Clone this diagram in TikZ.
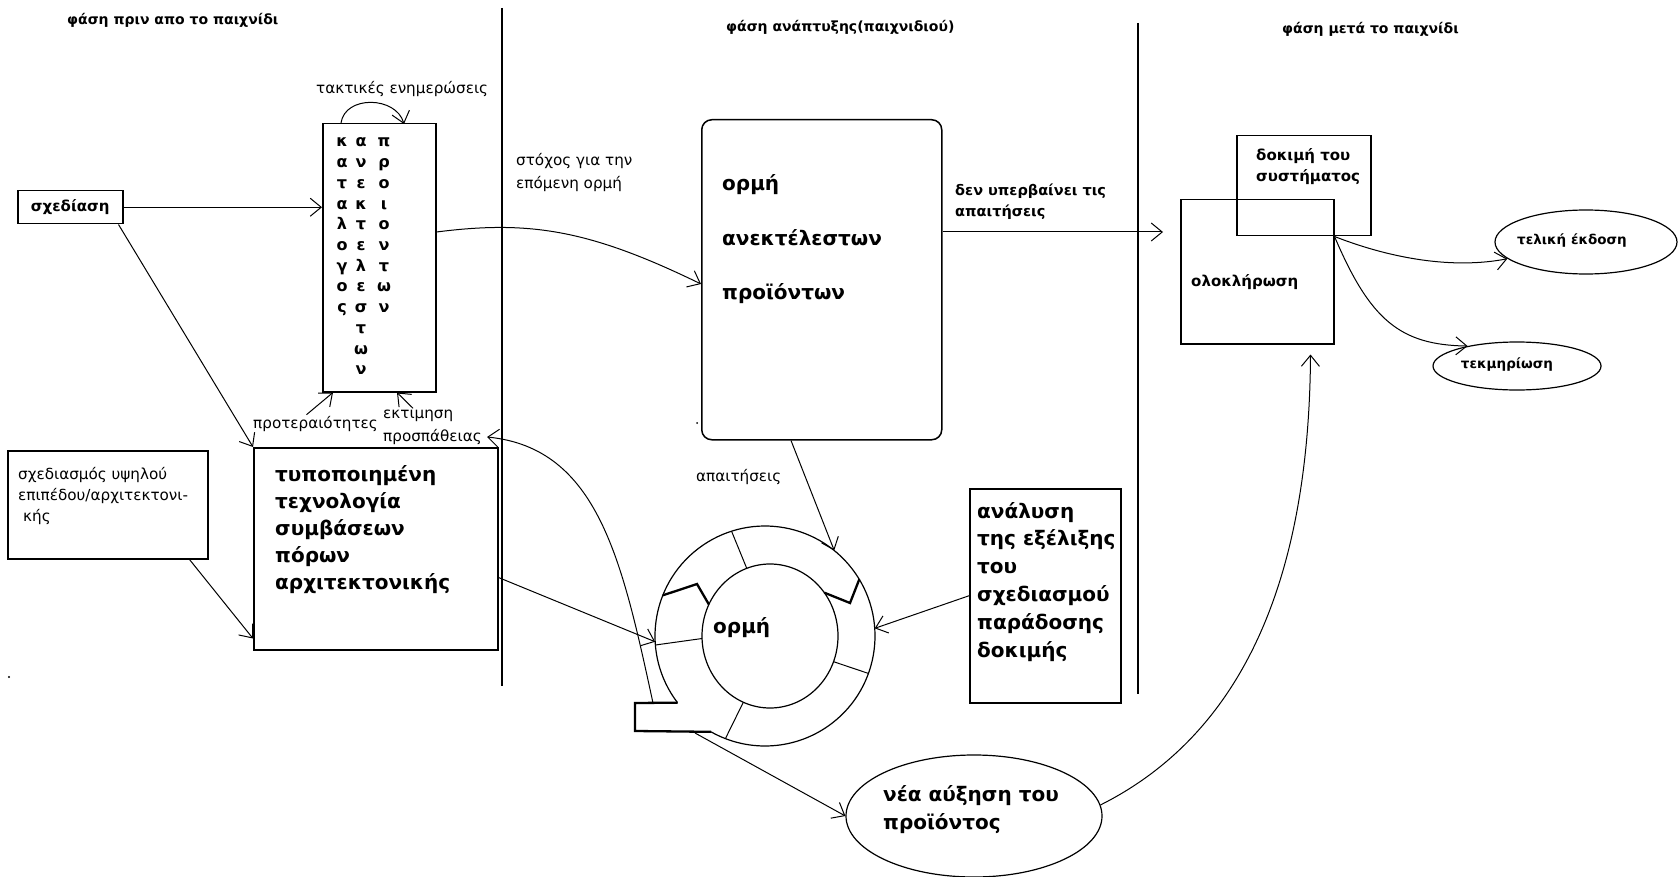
\documentclass[tikz,border=0pt]{standalone}
\usepackage{fontspec}
\setmainfont{DejaVu Sans}
\usetikzlibrary{arrows.meta,shapes.geometric,calc}
\begin{document}
\begin{tikzpicture}[x=1pt,y=-1pt,
  box/.style={draw, line width=1.5pt, inner sep=0pt, anchor=north west},
  conn/.style={line width=1pt, -{Straight Barb[length=11pt,width=18pt,line width=1pt]}},
  ell/.style={draw, ellipse, line width=1.2pt, inner sep=0pt},
  ttl/.style={font=\fontsize{14}{16}\selectfont\bfseries, anchor=base west, inner sep=0pt},
  lbl/.style={font=\fontsize{15.2}{17}\selectfont, anchor=base west, inner sep=0pt},
  lblb/.style={font=\fontsize{14.5}{17}\selectfont\bfseries, anchor=base west, inner sep=0pt},
  big/.style={font=\fontsize{20}{23}\selectfont\bfseries, anchor=base west, inner sep=0pt},
  letter/.style={font=\fontsize{16}{18}\selectfont\bfseries, anchor=base, inner sep=0pt},
  heavy/.style={line width=2.3pt, line join=miter},
  thin/.style={line width=1pt},
  divider/.style={line width=1.5pt},
]
\useasboundingbox (0,0) rectangle (1680,877);
\fill[white] (0,0) rectangle (1680,877);

% phase dividers
\coordinate (d1a) at (502,8);   \coordinate (d1b) at (502,686);
\coordinate (d2a) at (1138,23); \coordinate (d2b) at (1138,694);
\draw[divider] (d1a) -- (d1b);
\draw[divider] (d2a) -- (d2b);

% titles
\node[ttl] (t1) at (67,25) {φάση πριν απο το παιχνίδι};
\node[ttl] (t2) at (726,32) {φάση ανάπτυξης(παιχνιδιού)};
\node[ttl] (t3) at (1282,34) {φάση μετά το παιχνίδι};

% left column
\node[box, minimum width=105pt, minimum height=33pt, font=\fontsize{15}{17}\selectfont\bfseries] (sched) at (17,190) {σχεδίαση};

\node[box, minimum width=113pt, minimum height=268pt] (kat) at (322,123) {};
\foreach \l [count=\i from 0] in {κ,α,τ,α,λ,ο,γ,ο,ς}
  \node[letter] (ka-\i) at (342,{147+20.7*\i}) {\l};
\foreach \l [count=\i from 0] in {α,ν,ε,κ,τ,ε,λ,ε,σ,τ,ω,ν}
  \node[letter] (kb-\i) at (361,{147+20.7*\i}) {\l};
\foreach \l [count=\i from 0] in {π,ρ,ο,ι,ο,ν,τ,ω,ν}
  \node[letter] (kc-\i) at (384,{147+20.7*\i}) {\l};
\node[lbl] (upd) at (316,94) {τακτικές ενημερώσεις};

\node[box, minimum width=200pt, minimum height=108pt] (ydes) at (7,450) {};
\node[lbl] (ydes-0) at (18,479) {σχεδιασμός υψηλού};
\node[lbl] (ydes-1) at (18,500) {επιπέδου/αρχιτεκτονι-};
\node[lbl] (ydes-2) at (23,521) {κής};

\node[box, minimum width=244pt, minimum height=202pt] (std) at (253,447) {};
\foreach \t [count=\i from 0] in {τυποποιημένη,τεχνολογία,συμβάσεων,πόρων,αρχιτεκτονικής}
  \node[big] (std-\i) at (275,{481+27*\i}) {\t};

\node[lbl] (prio) at (253,428) {προτεραιότητες};
\node[lbl] (est1) at (383,418) {εκτιμηση};
\node[lbl] (est2) at (383,441) {προσπάθειας};

% middle column
\node[box, rounded corners=10pt, minimum width=240pt, minimum height=320pt] (backlog) at (701,119) {};
\node[big] (bl-0) at (722,191) {ορμή};
\node[big] (bl-1) at (722,246) {ανεκτέλεστων};
\node[big] (bl-2) at (722,299) {προϊόντων};

\node[lbl] (goal-0) at (516,166) {στόχος για την};
\node[lbl] (goal-1) at (516,189) {επόμενη ορμή};

\node[lblb] (req-0) at (955,196) {δεν υπερβαίνει τις};
\node[lblb] (req-1) at (955,217) {απαιτήσεις};

\node[lbl] (reqs) at (696,481) {απαιτήσεις};

\node[box, minimum width=151pt, minimum height=214pt] (anal) at (969,488) {};
\foreach \t [count=\i from 0] in {ανάλυση,της εξέλιξης,του,σχεδιασμού,παράδοσης,δοκιμής}
  \node[big] (anal-\i) at (977,{518+27.8*\i}) {\t};

% sprint ring
\coordinate (oc) at (765,636);
\draw[thin, line width=1.2pt] ($(oc)+(142.7:110)$) arc[start angle=142.7, end angle=479.4, radius=110];
\node[ell, minimum width=136pt, minimum height=144pt] (inner) at (770,636) {};
\node[big] (inner-t) at (713,633) {ορμή};
\draw[thin] ($(oc)+(252.3:110)$) -- ($(inner.center)+(250:68 and 72)$);
\draw[thin] ($(oc)+(175.3:110)$) -- ($(inner.center)+(178:68 and 72)$);
\draw[thin] ($(oc)+(19.9:110)$) -- ($(inner.center)+(20.9:68 and 72)$);
\draw[thin] ($(oc)+(111.1:110)$) -- ($(inner.center)+(113.1:68 and 72)$);
\coordinate (pa) at (697,584);
\coordinate (pb) at (850,603);
\draw[heavy] ($(oc)+(201.7:110)$) -- (pa) -- ($(inner.center)+(206:68 and 72)$);
\draw[heavy] ($(inner.center)+(-37:68 and 72)$) -- (pb) -- ($(oc)+(-31:110)$);
\coordinate (tabTL) at (635,703);
\coordinate (tabBL) at (635,731);
\draw[heavy] ($(oc)+(142.7:110)$) -- (tabTL) -- (tabBL) -- ($(oc)+(119.4:110)$);
\coordinate (tabA) at (653,703);
\coordinate (tabB) at (695,733);
\coordinate (estTip) at (487,437);

\node[ell, minimum width=256pt, minimum height=122pt] (grow) at (974,816) {};
\node[big] (grow-0) at (883,801) {νέα αύξηση του};
\node[big] (grow-1) at (883,829) {προϊόντος};

% right column
\node[box, minimum width=153pt, minimum height=144pt] (olok) at (1180,199) {};
\node[box, minimum width=134pt, minimum height=100pt] (dok) at (1236,135) {};
\node[lblb, font=\fontsize{15}{17}\selectfont\bfseries] (dok-0) at (1256,161) {δοκιμή του};
\node[lblb, font=\fontsize{15}{17}\selectfont\bfseries] (dok-1) at (1256,182) {συστήματος};
\node[lblb, font=\fontsize{15}{17}\selectfont\bfseries] (olok-t) at (1191,286) {ολοκλήρωση};

\node[ell, minimum width=182pt, minimum height=64pt] (final) at (1586,242) {};
\node[lblb, font=\fontsize{13.5}{16}\selectfont\bfseries, anchor=base] (final-t) at (1572,245) {τελική έκδοση};
\node[ell, minimum width=168pt, minimum height=48pt] (doc) at (1517,366) {};
\node[lblb, font=\fontsize{13.5}{16}\selectfont\bfseries, anchor=base] (doc-t) at (1507,368) {τεκμηρίωση};

% stray dots
\fill (9,677) circle (1.2);
\fill (697,423) circle (1);

% connectors
\draw[conn] (sched.east) -- (kat.west |- sched.east);
\draw[conn] ($(sched.south east)+(-5,0)$) -- (std.north west);
\draw[conn] ($(ydes.south east)+(-19,0)$) -- ($(std.south west)+(0,-12)$);
\draw[conn] ($(prio.north)+(-9,-1)$) -- ($(kat.south west)+(11,0)$);
\draw[conn] ($(est1.north west)+(30,-1)$) -- ($(kat.south west)+(75,0)$);
\draw[conn] ($(kat.north west)+(19,0)$) .. controls +(4,-28) and +(-8,-28) .. ($(kat.north west)+(82,1)$);
\draw[conn] ($(kat.north east)+(0,109)$) .. controls (530,220) and (590,230) .. ($(backlog.north west)+(0,165)$);
\coordinate (b7) at ($(backlog.north east)+(0,113)$);
\draw[conn, shorten >=17pt] (b7) -- (b7 -| olok.west);
\coordinate (corner) at (olok.east |- dok.south);
\draw[conn] (corner) .. controls (1400,262) and (1460,268) .. (final.192);
\draw[conn] (corner) .. controls (1370,320) and (1400,345) .. (doc.158);
\draw[conn] ($(backlog.south west)+(90,0)$) -- ($(oc)+(-51:110)$);
\draw[conn] ($(std.south east)+(0,-73)$) -- ($(oc)+(177:110)$);
\draw[conn] (anal.west) -- ($(oc)+(-4:110)$);
\draw[conn] (tabA) .. controls (622,560) and (598,448) .. (estTip);
\draw[conn] (tabB) -- (grow.west);
\draw[conn] (grow.5) .. controls (1230,740) and (1309,600) .. ($(olok.south east)+(-24,10)$);
\end{tikzpicture}
\end{document}
